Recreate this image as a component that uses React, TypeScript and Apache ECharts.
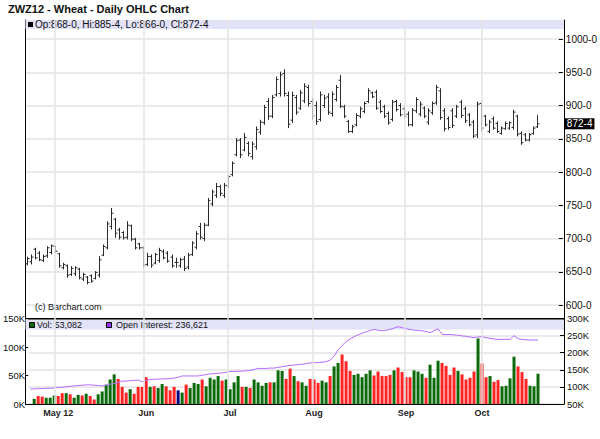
import React, { useEffect, useRef } from "react";
import * as echarts from "echarts";

// ---------- DATA ----------
const TITLE = "ZWZ12 - Wheat - Daily OHLC Chart";
const FIRST_DAY = "2012-04-20";
const HOLIDAYS = ["2012-05-28", "2012-07-04", "2012-09-03"];
const SLOT_COUNT = 134; // trading-day slots on the axis (last few are empty)
const MONTH_LABELS = ["May 12", "Jun", "Jul", "Aug", "Sep", "Oct"];

const OPEN = [
  662, 665, 684, 678, 667, 674, 679, 688, 677, 656,
  659, 646, 647, 654, 639, 642, 644, 640, 645, 675,
  686, 718, 729, 713, 709, 702, 719, 699, 692, 686,
  661, 673, 663, 667, 680, 678, 672, 664, 659, 669,
  657, 676, 687, 718, 700, 720, 752, 765, 778, 765,
  779, 796, 826, 848, 833, 843, 823, 838, 860, 874,
  906, 884, 916, 918, 948, 915, 878, 912, 896, 907,
  927, 906, 900, 879, 900, 913, 888, 909, 938, 898,
  876, 861, 871, 884, 891, 906, 919, 920, 905, 898,
  888, 879, 906, 900, 895, 887, 871, 892, 887, 896,
  875, 889, 904, 922, 892, 880, 892, 884, 905, 895,
  886, 875, 856, 903, 884, 861, 880, 873, 858, 865,
  866, 867, 884, 858, 856, 848, 858, 868,
];
const HIGH = [
  672.5, 676, 686, 681, 676, 688.5, 691, 689.5, 678.5, 663.5,
  661, 658.5, 658.5, 656, 648.5, 643.5, 646, 651, 673.5, 691,
  726, 746, 731, 716, 711, 726, 721, 701, 693.5, 688.5,
  678.5, 676, 678.5, 686, 683.5, 681, 676, 671, 671, 673.5,
  678.5, 696, 711, 723.5, 723.5, 761, 773.5, 783.5, 781, 783.5,
  796, 816, 851, 851, 858.5, 846, 846, 868.5, 878.5, 901,
  911, 916, 943.5, 951, 954.5, 921, 921, 916, 923.5, 933.5,
  931, 911, 906, 921, 916, 918.5, 921, 931, 946, 901,
  878.5, 871, 888.5, 898.5, 906, 926, 921, 923.5, 908.5, 901,
  891, 908.5, 908.5, 903.5, 898.5, 891, 896, 912.5, 906, 898.5,
  896, 906, 931, 926, 896, 883.5, 896, 901, 908.5, 898.5,
  888.5, 878.5, 906, 906, 886, 878.5, 883.5, 876, 868.5, 876,
  876, 893.5, 886, 861, 858.5, 858.5, 868.5, 885.5,
];
const LOW = [
  659.5, 661, 668.5, 666, 664.5, 671, 676, 678.5, 656, 653.5,
  641, 643.5, 643.5, 638.5, 636, 631, 633.5, 638.5, 641, 673.5,
  683.5, 713.5, 701, 698.5, 698.5, 698.5, 696, 683.5, 683.5, 656,
  658.5, 656, 661, 663.5, 668.5, 663.5, 656, 656, 656, 651,
  653.5, 673.5, 683.5, 698.5, 696, 718.5, 748.5, 761, 763.5, 761,
  776, 793.5, 823.5, 821, 831, 823.5, 818.5, 833.5, 856, 871,
  878.5, 881, 913.5, 913.5, 913.5, 866, 873.5, 886, 893.5, 903.5,
  898.5, 878.5, 871, 876, 896, 886, 883.5, 906, 896, 881,
  858.5, 858.5, 868.5, 881, 888.5, 903.5, 911, 893.5, 888.5, 881,
  871, 876, 891, 883.5, 881, 868.5, 868.5, 888.5, 883.5, 881,
  871, 886, 901, 878.5, 861, 863.5, 866, 881, 881, 873.5,
  868.5, 851, 851, 861, 868.5, 858.5, 863.5, 858.5, 856, 863.5,
  863.5, 863.5, 853.5, 841, 846, 846, 856, 866,
];
const CLOSE = [
  670, 672, 671, 668, 673, 686, 689, 681, 659, 661,
  645, 655, 656, 641, 646, 634, 636, 649, 668, 688,
  722, 738, 708, 702, 701, 720, 699, 686, 686, 660,
  673, 660, 676, 682, 671, 666, 659, 664, 668, 655,
  675, 693, 707, 702, 720, 757, 770, 778, 768, 780,
  793, 813, 847, 826, 852, 828, 842, 864, 875, 897,
  884, 912, 939, 946, 918, 872, 915, 890, 919, 929,
  903, 884, 876, 916, 911, 890, 917, 927, 899, 884,
  861, 868, 885, 895, 903, 922, 913, 896, 891, 884,
  874, 905, 894, 886, 884, 871, 893, 909, 902, 884,
  892, 903, 927, 882, 865, 867, 870, 898, 885, 877,
  871, 854, 902, 866, 871, 875, 866, 861, 866, 873,
  874, 890, 857, 844, 848, 856, 866, 872.5,
];
// volume, thousands of contracts
const VOLUME_K = [
  null, 9, 14, 13, 11, 11, 15, 14, 19, 19,
  17, 11, 16, 15, 18, 14, 8, 17, 22, 34,
  43, 52, 44, 30, 20, 26, 18, 30, 30, 47,
  30, 31, 28, 35, 31, 24, 30, 24, 20, 34,
  28, 37, 35, 43, 31, 46, 43, 49, 41, 43,
  26, 38, 49, 30, 30, 28, 43, 38, 32, 37,
  38, 38, 59, 58, 44, 62, 49, 40, 38, 32,
  44, 43, 37, 41, 38, 49, 66, 72, 87, 75,
  58, 51, 53, 47, 53, 59, 50, 57, 49, 49,
  51, 59, 64, 56, 47, 47, 59, 57, 53, 46,
  69, 46, 76, 72, 67, 51, 64, 58, 52, 43,
  46, 57, 115, 71, 47, 49, 39, 42, 31, 32,
  45, 83, 66, 56, 44, 32, 31, 53.082,
];
// open interest, thousands of contracts
const OPEN_INTEREST_K = [
  94, 94, 95, 95, 96, 96, 97, 98, 99, 100,
  102, 103, 104, 105, 106, 106, 105, 104, 103, 105,
  108, 110, 113, 117, 117, 118, 119, 120, 115, 119,
  122, 122, 123, 123, 124, 124, 126, 128, 132, 132,
  132, 132, 132, 134, 136, 138, 139, 140, 141, 143,
  145, 145, 146, 146, 147, 148, 151, 154, 154, 154,
  155, 155, 157, 159, 161, 163, 164, 165, 166, 168,
  170, 171, 171, 172, 174, 178, 190, 208, 221, 232,
  240, 247, 252, 257, 261, 265, 268, 266, 264, 266,
  268, 272, 276, 273, 270, 268, 266, 265, 264, 262,
  259, 264, 270, 254, 253, 253, 252, 251, 249, 248,
  246, 244, 246, 247, 244, 242, 240, 239, 239, 239,
  239, 250, 241, 239, 238, 237, 237, 236.621,
];
const PRICE_TICKS = { min: 600, max: 1000, step: 50 };
const VOL_TICKS = { min: 0, max: 150, step: 50 };
const OI_TICKS = { min: 50, max: 300, step: 50 };

// ---------- HELPERS ----------
function tradingDays(start: string, count: number): string[] {
  const out: string[] = [];
  const d = new Date(start + "T12:00:00Z");
  while (out.length < count) {
    const wd = d.getUTCDay();
    const s = d.toISOString().slice(0, 10);
    if (wd !== 0 && wd !== 6 && !HOLIDAYS.includes(s)) out.push(s);
    d.setUTCDate(d.getUTCDate() + 1);
  }
  return out;
}
const fmtPrice = (v: number) => {
  const w = Math.floor(v + 1e-9);
  const e = Math.round((v - w) * 8);
  return `${w}-${e}`;
};
const fmtInt = (k: number) => Math.round(k * 1000).toLocaleString("en-US");

const FONT = '"Liberation Sans", Arial, Helvetica, sans-serif';
const UP = "#0b6b0b";
const DOWN = "#ff2424";
const UNCH = "#000080";
const OI_COLOR = "#b46cff";
const BAND = "#e2e2f8";
const GRID_LINE = "#e3e3e3";

function buildOption() {
  const dates = tradingDays(FIRST_DAY, SLOT_COUNT);
  const monthStarts: number[] = [];
  for (let i = 1; i < dates.length; i++) {
    if (dates[i].slice(5, 7) !== dates[i - 1].slice(5, 7)) monthStarts.push(i);
  }
  const labelAt: Record<number, string> = {};
  monthStarts.forEach((idx, k) => {
    if (k < MONTH_LABELS.length) labelAt[idx] = MONTH_LABELS[k];
  });

  const n = CLOSE.length;
  const ohlc = CLOSE.map((c, i) => [i, OPEN[i], HIGH[i], LOW[i], c]);
  const vol = VOLUME_K.map((v, i) => ({
    value: v,
    itemStyle: {
      color: CLOSE[i] > OPEN[i] ? UP : CLOSE[i] < OPEN[i] ? DOWN : UNCH,
    },
  }));
  const last = n - 1;
  const priceLegend = `Op:${fmtPrice(OPEN[last])}, Hi:${fmtPrice(HIGH[last])}, Lo:${fmtPrice(LOW[last])}, Cl:${fmtPrice(CLOSE[last])}`;
  const volLegend = `Vol: ${fmtInt(VOLUME_K[last] as number)}`;
  const oiLegend = `Open Interest: ${fmtInt(OPEN_INTEREST_K[last])}`;

  const L = 25;
  const W = 539;

  return {
    animation: false,
    textStyle: { fontFamily: FONT },
    grid: [
      { left: L, width: W, top: 39, height: 266 },
      { left: L, width: W, top: 318.5, height: 85.5 },
      { left: L, width: W, top: 20, height: 384 },
    ],
    xAxis: [
      { type: "category", gridIndex: 0, data: dates, boundaryGap: true, show: false },
      {
        type: "category",
        gridIndex: 1,
        data: dates,
        boundaryGap: true,
        axisLine: { onZero: false, lineStyle: { color: "#000", width: 1 } },
        axisTick: { show: false },
        splitLine: { show: false },
        axisLabel: {
          interval: (idx: number) => labelAt[idx] !== undefined,
          formatter: (_v: string, idx: number) => labelAt[idx] ?? "",
          fontSize: 9,
          fontWeight: "bold",
          color: "#222",
          margin: 4,
          fontFamily: FONT,
        },
      },
      { type: "category", gridIndex: 2, data: dates, boundaryGap: true, show: false },
      {
        type: "category",
        gridIndex: 1,
        data: dates,
        position: "top",
        boundaryGap: true,
        axisLine: { onZero: false, lineStyle: { color: "#000", width: 2 } },
        axisTick: { show: false },
        axisLabel: { show: false },
        splitLine: { show: false },
      },
    ],
    yAxis: [
      {
        type: "value",
        gridIndex: 0,
        position: "right",
        min: PRICE_TICKS.min,
        max: PRICE_TICKS.max,
        interval: PRICE_TICKS.step,
        axisLine: { show: false },
        axisTick: { show: true, inside: true, length: 4, lineStyle: { color: "#000" } },
        axisLabel: { formatter: (v: number) => fmtPrice(v), fontSize: 10, color: "#111", margin: 3, fontFamily: FONT },
        splitLine: { show: true, lineStyle: { color: GRID_LINE, width: 1.5 } },
      },
      {
        type: "value",
        gridIndex: 1,
        position: "left",
        min: VOL_TICKS.min,
        max: VOL_TICKS.max,
        interval: VOL_TICKS.step,
        axisLine: { show: false },
        axisTick: { show: true, inside: false, length: 3, lineStyle: { color: "#000" } },
        axisLabel: { formatter: (v: number) => `${v}K`, fontSize: 9.5, color: "#111", margin: 3, fontFamily: FONT },
        splitLine: { show: false },
      },
      {
        type: "value",
        gridIndex: 1,
        position: "right",
        min: OI_TICKS.min,
        max: OI_TICKS.max,
        interval: OI_TICKS.step,
        axisLine: { show: false },
        axisTick: { show: true, inside: true, length: 4, lineStyle: { color: "#000" } },
        axisLabel: { formatter: (v: number) => `${v}K`, fontSize: 9.5, color: "#111", margin: 3, fontFamily: FONT },
        splitLine: { show: true, lineStyle: { color: GRID_LINE, width: 1.5 } },
      },
      {
        type: "value",
        gridIndex: 2,
        position: "left",
        min: 0,
        max: 1,
        axisLine: { show: true, onZero: false, lineStyle: { color: "#000", width: 1 } },
        axisTick: { show: false },
        axisLabel: { show: false },
        splitLine: { show: false },
      },
      {
        type: "value",
        gridIndex: 2,
        position: "right",
        min: 0,
        max: 1,
        axisLine: { show: true, onZero: false, lineStyle: { color: "#000", width: 1 } },
        axisTick: { show: false },
        axisLabel: { show: false },
        splitLine: { show: false },
      },
    ],
    series: [
      {
        name: "monthGrid",
        type: "line",
        xAxisIndex: 2,
        yAxisIndex: 3,
        data: dates.map(() => null),
        z: 0,
        silent: true,
        showSymbol: false,
        markLine: {
          silent: true,
          symbol: ["none", "none"],
          label: { show: false },
          lineStyle: { color: GRID_LINE, width: 1.5, type: "solid" },
          emphasis: { disabled: true },
          data: monthStarts.map((i) => ({ xAxis: dates[i] })),
        },
      },
      {
        name: "OHLC",
        type: "custom",
        xAxisIndex: 0,
        yAxisIndex: 0,
        z: 3,
        data: ohlc,
        encode: { x: 0, y: [1, 2, 3, 4] },
        renderItem: (_p: any, api: any) => {
          const i = api.value(0);
          const pH = api.coord([i, api.value(2)]);
          const pL = api.coord([i, api.value(3)]);
          const pO = api.coord([i, api.value(1)]);
          const pC = api.coord([i, api.value(4)]);
          const x = Math.round(pH[0]) + 0.5;
          const style = { stroke: "#2a2a2a", lineWidth: 1 };
          return {
            type: "group",
            children: [
              { type: "line", shape: { x1: x, y1: pH[1], x2: x, y2: pL[1] }, style },
              { type: "line", shape: { x1: x - 2, y1: pO[1], x2: x, y2: pO[1] }, style },
              { type: "line", shape: { x1: x, y1: pC[1], x2: x + 2, y2: pC[1] }, style },
            ],
          };
        },
      },
      {
        name: "lastPrice",
        type: "line",
        xAxisIndex: 0,
        yAxisIndex: 0,
        data: dates.map(() => null),
        z: 4,
        silent: true,
        showSymbol: false,
        markLine: {
          silent: true,
          symbol: ["none", "none"],
          lineStyle: { color: "rgba(0,0,0,0)", width: 1, type: "solid" },
          emphasis: { disabled: true },
          label: {
            show: true,
            position: "end",
            formatter: () => fmtPrice(CLOSE[last]),
            backgroundColor: "#000",
            color: "#fff",
            fontSize: 10,
            fontFamily: FONT,
            padding: [1, 2, 0, 2],
            distance: 2,
          },
          data: [{ yAxis: CLOSE[last] }],
        },
      },
      {
        name: "Vol",
        type: "bar",
        xAxisIndex: 1,
        yAxisIndex: 1,
        barWidth: 3,
        z: 2,
        data: vol,
      },
      {
        name: "Open Interest",
        type: "line",
        xAxisIndex: 1,
        yAxisIndex: 2,
        z: 3,
        showSymbol: false,
        symbol: "none",
        lineStyle: { color: OI_COLOR, width: 1 },
        data: OPEN_INTEREST_K,
      },
    ],
    graphic: [
      {
        type: "text",
        left: 8,
        top: 3,
        z: 5,
        style: { text: TITLE, font: `bold 11px ${FONT}`, fill: "#111" },
      },
      { type: "rect", z: 1, shape: { x: 25.5, y: 20, width: 538.5, height: 9 }, style: { fill: BAND } },
      { type: "rect", z: 5, shape: { x: 28, y: 22, width: 5, height: 5 }, style: { fill: "#000" } },
      {
        type: "text",
        z: 5,
        x: 35,
        y: 24.8,
        style: { text: priceLegend, font: `10px ${FONT}`, fill: "#111", verticalAlign: "middle" },
      },
      {
        type: "text",
        z: 5,
        x: 35,
        y: 307,
        style: { text: "(c) Barchart.com", font: `9px ${FONT}`, fill: "#111", verticalAlign: "middle" },
      },
      { type: "rect", z: 1, shape: { x: 25.5, y: 319.5, width: 538.5, height: 10 }, style: { fill: BAND } },
      { type: "rect", z: 5, shape: { x: 29.5, y: 322.5, width: 5, height: 5 }, style: { fill: UP, stroke: "#000", lineWidth: 1 } },
      {
        type: "text",
        z: 5,
        x: 37,
        y: 324.8,
        style: { text: volLegend, font: `9px ${FONT}`, fill: "#111", verticalAlign: "middle" },
      },
      { type: "rect", z: 5, shape: { x: 106.5, y: 322.5, width: 5, height: 5 }, style: { fill: "#9933ff", stroke: "#000", lineWidth: 1 } },
      {
        type: "text",
        z: 5,
        x: 116,
        y: 324.8,
        style: { text: oiLegend, font: `9px ${FONT}`, fill: "#111", verticalAlign: "middle" },
      },
    ],
  };
}

export default function App() {
  const ref = useRef<HTMLDivElement>(null);
  useEffect(() => {
    document.body.style.margin = "0";
    if (!ref.current) return;
    const chart = echarts.init(ref.current, null, { renderer: "svg" });
    chart.setOption(buildOption() as any);
    return () => chart.dispose();
  }, []);
  return <div ref={ref} style={{ width: 600, height: 439, background: "#fff" }} />;
}
